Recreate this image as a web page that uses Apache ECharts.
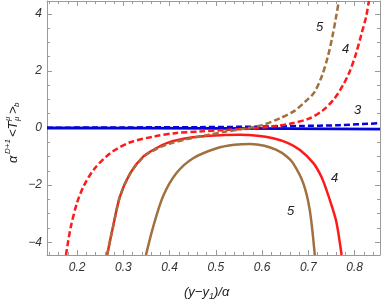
<!DOCTYPE html>
<html><head><meta charset="utf-8">
<script src="https://cdn.jsdelivr.net/npm/echarts@6/dist/echarts.min.js"></script>
<style>html,body{margin:0;padding:0;background:#fff}#c{width:382px;height:300px}</style>
</head><body><div id="c"></div>
<script>
// ---- data ----
const xMajorTicks = [0.2, 0.3, 0.4, 0.5, 0.6, 0.7, 0.8];
const xMinorTicks = [0.14,0.16,0.18,0.22,0.24,0.26,0.28,0.32,0.34,0.36,0.38,0.42,0.44,0.46,0.48,0.52,0.54,0.56,0.58,0.62,0.64,0.66,0.68,0.72,0.74,0.76,0.78,0.82,0.84];
const yMajorTicks = [-4, -2, 0, 2, 4];
const yMinorTicks = [-3.5,-3,-2.5,-1.5,-1,-0.5,0.5,1,1.5,2.5,3,3.5];

// D=3
const d3SolidX = [0.135, 0.5, 0.855];
const d3SolidY = [0.0, -0.01, -0.04];
const d3DashX = [0.135, 0.3, 0.466, 0.6, 0.682, 0.768, 0.855];
const d3DashY = [0.01, 0.02, 0.03, 0.05, 0.07, 0.10, 0.17];
// D=4
const d4DashX = [0.176,0.186,0.200,0.214,0.236,0.272,0.315,0.366,0.412,0.466,0.52,0.574,0.62,0.66,0.70,0.73,0.755,0.775,0.79,0.803,0.815,0.825,0.831];
const d4DashY = [-4.45,-3.5,-2.62,-2.05,-1.46,-0.88,-0.5,-0.3,-0.18,-0.12,-0.07,-0.02,0.05,0.15,0.32,0.6,1.0,1.5,2.0,2.6,3.3,3.9,4.45];
const d4SolidX = [0.265,0.278,0.293,0.315,0.343,0.37,0.394,0.43,0.466,0.51,0.552,0.59,0.624,0.655,0.682,0.711,0.728,0.739,0.751,0.761,0.772];
const d4SolidY = [-4.45,-3.44,-2.39,-1.58,-1.0,-0.72,-0.53,-0.38,-0.30,-0.25,-0.24,-0.27,-0.36,-0.52,-0.77,-1.23,-1.7,-2.16,-2.75,-3.32,-4.45];
// D=5
const d5DashX = [0.265,0.278,0.293,0.315,0.343,0.37,0.40,0.44,0.48,0.52,0.56,0.60,0.64,0.67,0.695,0.713,0.73,0.743,0.752,0.759,0.766];
const d5DashY = [-4.45,-3.44,-2.39,-1.6,-1.02,-0.75,-0.55,-0.38,-0.25,-0.13,-0.03,0.1,0.35,0.6,0.95,1.25,1.85,2.55,3.2,3.8,4.45];
const d5SolidX = [0.349,0.365,0.386,0.415,0.451,0.502,0.54,0.574,0.605,0.631,0.652,0.667,0.689,0.703,0.714];
const d5SolidY = [-4.45,-3.44,-2.39,-1.58,-1.06,-0.71,-0.59,-0.56,-0.62,-0.77,-0.98,-1.23,-1.93,-2.86,-4.45];

const curveLabels = ['5', '4', '3', '4', '5'];

// ---- chart ----
const zip = (xs, ys) => xs.map((x, i) => [x, ys[i]]);
const X_MIN = 0.135, X_MAX = 0.855, Y_MIN = -4.45, Y_MAX = 4.45;
const AX = '#9a9a9a';
const LBL = '#333';
const FONT = 'Liberation Sans, Arial, sans-serif';

function xAxisDef(pos, ticks, len, showLine, showLabel) {
  return {
    type: 'value', position: pos, min: X_MIN, max: X_MAX, gridIndex: 0,
    splitLine: { show: false },
    axisLine: { show: showLine, onZero: false, lineStyle: { color: AX, width: 1 } },
    axisTick: { show: true, inside: true, length: len, customValues: ticks, lineStyle: { color: AX } },
    axisLabel: showLabel ? { show: true, customValues: ticks, margin: 7, color: LBL, fontStyle: 'italic', fontSize: 12, fontFamily: FONT,
      formatter: v => v.toFixed(1) } : { show: false }
  };
}
function yAxisDef(pos, ticks, len, showLine, showLabel) {
  return {
    type: 'value', position: pos, min: Y_MIN, max: Y_MAX, gridIndex: 0,
    splitLine: { show: false },
    axisLine: { show: showLine, onZero: false, lineStyle: { color: AX, width: 1 } },
    axisTick: { show: true, inside: true, length: len, customValues: ticks, lineStyle: { color: AX } },
    axisLabel: showLabel ? { show: true, customValues: ticks, margin: 5, color: LBL, fontStyle: 'italic', fontSize: 12, fontFamily: FONT,
      formatter: v => (v < 0 ? '\u2212' + (-v) : String(v)) } : { show: false }
  };
}

function lineSeries(data, color, dashed, width, z) {
  return {
    type: 'line', xAxisIndex: 0, yAxisIndex: 0, data: data, showSymbol: false, symbol: 'none',
    smooth: 0.3, clip: true, z: z,
    lineStyle: { color: color, width: width, type: dashed ? [6, 3] : 'solid' }
  };
}

const BLUE = '#0505d8', RED = '#ff1a1a', BROWN = '#a0703e';

const chart = echarts.init(document.getElementById('c'), null, { renderer: 'canvas' });
const it = { fontStyle: 'italic', fontFamily: FONT, fill: '#222' };
function t(x, y, text, size, extra) {
  return Object.assign({ type: 'text', x: x, y: y, style: Object.assign({}, it, { text: text, fontSize: size, verticalAlign: 'middle', align: 'left' }, extra || {}) });
}
chart.setOption({
  animation: false,
  grid: { left: 47, right: 2, top: 1, bottom: 45, containLabel: false },
  xAxis: [
    xAxisDef('bottom', xMajorTicks, 5, true, true),
    xAxisDef('bottom', xMinorTicks, 3, false, false),
    xAxisDef('top', xMajorTicks, 5, true, false),
    xAxisDef('top', xMinorTicks, 3, false, false)
  ],
  yAxis: [
    yAxisDef('left', yMajorTicks, 5, true, true),
    yAxisDef('left', yMinorTicks, 3, false, false),
    yAxisDef('right', yMajorTicks, 5, true, false),
    yAxisDef('right', yMinorTicks, 3, false, false)
  ],
  series: [
    lineSeries(zip(d3SolidX, d3SolidY), BLUE, false, 2.8, 2),
    lineSeries(zip(d3DashX, d3DashY), BLUE, true, 2.5, 3),
    lineSeries(zip(d4SolidX, d4SolidY), RED, false, 2.5, 4),
    lineSeries(zip(d4DashX, d4DashY), RED, true, 2.5, 5),
    lineSeries(zip(d5SolidX, d5SolidY), BROWN, false, 2.5, 6),
    lineSeries(zip(d5DashX, d5DashY), BROWN, true, 2.5, 7)
  ],
  graphic: [
    // curve labels
    t(316, 27, curveLabels[0], 13),
    t(342, 49, curveLabels[1], 13),
    t(354, 110, curveLabels[2], 13),
    t(331, 178, curveLabels[3], 13),
    t(287, 211, curveLabels[4], 13),
    // x axis title: (y−y1)/α
    t(184, 292, '(y\u2212y', 13),
    t(209, 296, '1', 9),
    t(214, 292, ')/\u03b1', 13),
    // y axis title: α^{D+1} <T^μ_μ>_b (rotated)
    { type: 'group', x: 13, y: 128, rotation: Math.PI / 2, children: [
      t(-35, 0, '\u03b1', 13),
      t(-26, -5, 'D+1', 8),
      t(-9, 0, '<T', 13),
      t(7, -5, '\u03bc', 8),
      t(7, 4, '\u03bc', 8),
      t(14, 0, '>', 13),
      t(21, 4, 'b', 8)
    ] }
  ]
});
</script></body></html>
